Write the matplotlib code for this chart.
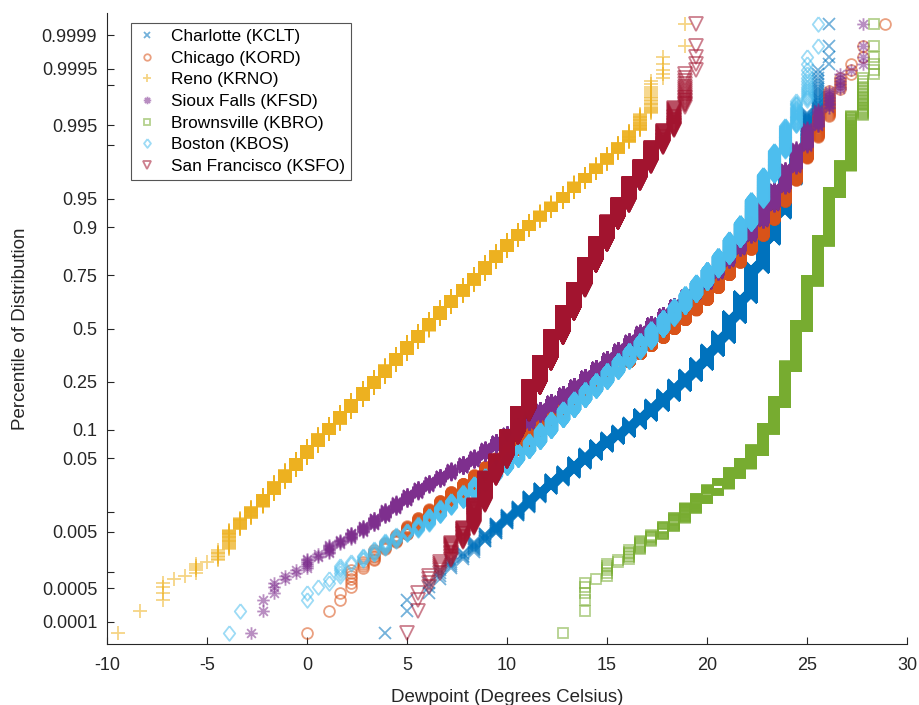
import numpy as np
import matplotlib
matplotlib.use("Agg")
import matplotlib.pyplot as plt
from matplotlib.path import Path
from statistics import NormalDist

# hours observed at each whole-degree F dewpoint, first entry is at *_min_f
charlotte_min_f = 39
charlotte_hours = [1, 0, 2, 0, 3, 4, 5, 5, 10, 11,
                   18, 20, 25, 40, 42, 56, 60, 86, 97, 115,
                   118, 124, 161, 195, 246, 293, 324, 356, 451, 553,
                   576, 882, 851, 1113, 802, 493, 370, 139, 86, 23,
                   4]

chicago_min_f = 32
chicago_hours = [1, 0, 1, 2, 6, 4, 8, 7, 10, 15,
                 18, 24, 31, 41, 48, 59, 72, 90, 113, 134,
                 178, 186, 213, 240, 267, 292, 284, 301, 316, 333,
                 350, 370, 385, 395, 420, 450, 470, 470, 420, 373,
                 338, 307, 257, 201, 127, 67, 35, 20, 5, 3,
                 2, 0, 1]

reno_min_f = 15
reno_hours = [1, 0, 1, 0, 4, 1, 1, 5, 1, 8,
              25, 24, 33, 51, 71, 91, 118, 165, 187, 211,
              271, 338, 363, 387, 445, 475, 500, 515, 517, 502,
              487, 432, 389, 383, 322, 290, 219, 176, 148, 122,
              111, 90, 64, 54, 46, 36, 27, 25, 21, 5,
              0, 2]

sioux_min_f = 27
sioux_hours = [1, 2, 3, 2, 2, 6, 3, 8, 6, 10,
               12, 18, 24, 28, 34, 37, 38, 46, 55, 64,
               74, 106, 114, 136, 162, 181, 205, 224, 247, 272,
               321, 340, 361, 377, 384, 393, 393, 390, 388, 385,
               388, 390, 394, 346, 321, 299, 247, 198, 143, 89,
               47, 23, 12, 6, 1, 4]

brownsville_min_f = 55
brownsville_hours = [1, 0, 5, 1, 6, 2, 7, 9, 8, 14,
                     19, 28, 36, 41, 39, 77, 87, 157, 357, 642,
                     1226, 1720, 1899, 1218, 791, 199, 141, 24, 6]

boston_min_f = 25
boston_hours = [1, 1, 0, 0, 0, 0, 0, 2, 1, 2,
                5, 2, 4, 5, 8, 8, 7, 12, 20, 25,
                25, 38, 48, 58, 72, 80, 110, 135, 193, 230,
                246, 280, 300, 307, 371, 400, 415, 426, 512, 513,
                487, 508, 455, 458, 424, 434, 340, 343, 224, 119,
                62, 27, 15, 2]

sf_min_f = 41
sf_hours = [1, 3, 4, 6, 15, 21, 60, 142, 152, 336,
            488, 777, 905, 1087, 1074, 968, 881, 598, 461, 267,
            225, 114, 80, 42, 31, 17, 5]

station_names = ["Charlotte (KCLT)", "Chicago (KORD)", "Reno (KRNO)",
                 "Sioux Falls (KFSD)", "Brownsville (KBRO)", "Boston (KBOS)",
                 "San Francisco (KSFO)"]

prob_ticks = [0.0001, 0.0005, 0.001, 0.005, 0.01, 0.05, 0.1, 0.25, 0.5,
              0.75, 0.9, 0.95, 0.99, 0.995, 0.999, 0.9995, 0.9999]
prob_labels = ["0.0001", "0.0005", "", "0.005", "", "0.05", "0.1", "0.25", "0.5",
               "0.75", "0.9", "0.95", "", "0.995", "", "0.9995", "0.9999"]

# normal probability scale for the y axis
nd = NormalDist()
_ppf = np.vectorize(nd.inv_cdf, otypes=[float])
_cdf = np.vectorize(nd.cdf, otypes=[float])


def to_z(p):
    p = np.clip(np.asarray(p, dtype=float), 1e-12, 1 - 1e-12)
    return _ppf(p)


def from_z(z):
    return _cdf(np.asarray(z, dtype=float))


def f_to_c(f):
    return (f - 32.0) * 5.0 / 9.0


# matlab style markers that matplotlib doesn't have
diamond = [(0, 1), (0.78, 0), (0, -1), (-0.78, 0), (0, 1)]
asterisk = Path([(-1, 0), (1, 0), (0, -1), (0, 1),
                 (-0.7, -0.7), (0.7, 0.7), (-0.7, 0.7), (0.7, -0.7)],
                [Path.MOVETO, Path.LINETO] * 4)

series = [
    (charlotte_min_f, charlotte_hours, "#0072BD", "x", 8.0),
    (chicago_min_f, chicago_hours, "#D95319", "o", 7.8),
    (reno_min_f, reno_hours, "#EDB120", "+", 10.0),
    (sioux_min_f, sioux_hours, "#7E2F8E", asterisk, 9.0),
    (brownsville_min_f, brownsville_hours, "#77AC30", "s", 7.4),
    (boston_min_f, boston_hours, "#4DBEEE", diamond, 10.6),
    (sf_min_f, sf_hours, "#A2142F", "v", 9.4),
]

plt.rcParams['font.family'] = ['Liberation Sans', 'DejaVu Sans']
plt.rcParams['axes.unicode_minus'] = False

fig = plt.figure(figsize=(9.19, 7.05), dpi=100)
ax = fig.add_axes([0.1164, 0.0865, 0.8705, 0.895])
ax.set_yscale('function', functions=(to_z, from_z))

for name, (min_f, hours, color, marker, ms) in zip(station_names, series):
    deg_f = np.arange(min_f, min_f + len(hours))
    temps = np.sort(f_to_c(np.repeat(deg_f, hours)))
    n = len(temps)
    pct = (np.arange(1, n + 1) - 0.5) / n
    ax.plot(temps, pct, linestyle='none', marker=marker, markersize=ms,
            markerfacecolor='none', markeredgecolor=color, markeredgewidth=1.3,
            alpha=0.55, label=name)

ax.set_xlim(-10, 30)
ax.set_ylim(from_z(-4.0), from_z(4.0))
ax.set_xticks(np.arange(-10, 31, 5))
ax.set_yticks(prob_ticks)
ax.set_yticklabels(prob_labels)
ax.minorticks_off()

ax.spines['top'].set_visible(False)
ax.spines['right'].set_visible(False)
for s in ['left', 'bottom']:
    ax.spines[s].set_color('#262626')
    ax.spines[s].set_linewidth(0.8)
ax.tick_params(direction='in', length=5, width=0.8, colors='#262626',
               labelsize=13, labelcolor='#262626')
ax.tick_params(axis='x', pad=9)
ax.tick_params(axis='y', pad=7)

ax.set_xlabel("Dewpoint (Degrees Celsius)", fontsize=13.5, color='#262626', labelpad=11)
ax.set_ylabel("Percentile of Distribution", fontsize=13.5, color='#262626', labelpad=9)

leg = ax.legend(loc='upper left', bbox_to_anchor=(0.03, 0.984), borderaxespad=0,
                fontsize=12.4, markerscale=0.6, handlelength=1.2, handletextpad=0.75,
                labelspacing=0.38, borderpad=0.35, fancybox=False, framealpha=1)
leg.get_frame().set_edgecolor('#555555')
leg.get_frame().set_linewidth(0.8)

fig.savefig("out.png", dpi=100)
